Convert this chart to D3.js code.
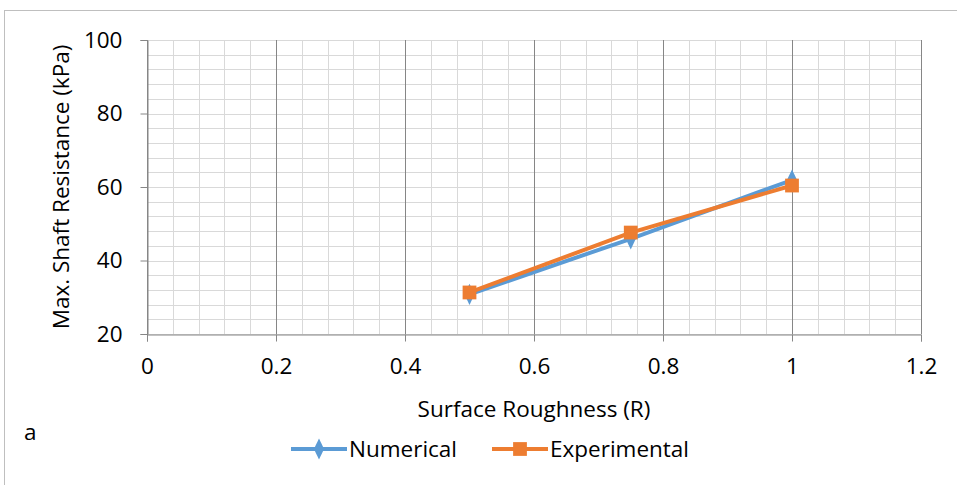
<!DOCTYPE html>
<html>
<head>
<meta charset="utf-8">
<script src="https://cdn.jsdelivr.net/npm/d3@7"></script>
<style>
  body { margin: 0; background: #fff; }
  text { font-family: "Open Sans", sans-serif; fill: #000; }
</style>
</head>
<body>
<div id="chart"></div>
<script>
// data
var roughness = [0.5, 0.75, 1];
var numerical = [30.8, 45.9, 61.9];
var experimental = [31.3, 47.6, 60.4];
var xTicks = [0, 0.2, 0.4, 0.6, 0.8, 1, 1.2];
var yTicks = [20, 40, 60, 80, 100];
var seriesNames = ["Numerical", "Experimental"];
var seriesColors = ["#5B9BD5", "#ED7D31"];

var W = 957, H = 485;
var fs = 22.5;
var margin = { top: 40, left: 147, right: 957 - 921, bottom: 485 - 334 };
var width = W - margin.left - margin.right;
var height = H - margin.top - margin.bottom;

var svg = d3.select("#chart").append("svg")
    .attr("width", W)
    .attr("height", H);

// outer frame
svg.append("rect")
    .attr("x", 4.5).attr("y", 10.5)
    .attr("width", W + 10).attr("height", H + 10)
    .attr("fill", "none")
    .attr("stroke", "#bfbfbf");

var g = svg.append("g")
    .attr("transform", "translate(" + margin.left + "," + margin.top + ")");

var x = d3.scaleLinear().domain([0, 1.2]).range([0, width]);
var y = d3.scaleLinear().domain([20, 100]).range([height, 0]);

// minor grid
var xMinor = d3.range(0, 1.2001, 0.04);
var yMinor = d3.range(20, 100.001, 4);
g.selectAll(".ygrid").data(yMinor).enter().append("line")
    .attr("x1", 0).attr("x2", width)
    .attr("y1", function(d) { return Math.round(y(d)) + 0.5; })
    .attr("y2", function(d) { return Math.round(y(d)) + 0.5; })
    .attr("stroke", "#d9d9d9");
g.selectAll(".xgrid").data(xMinor).enter().append("line")
    .attr("y1", 0).attr("y2", height)
    .attr("x1", function(d) { return Math.round(x(d)) + 0.5; })
    .attr("x2", function(d) { return Math.round(x(d)) + 0.5; })
    .attr("stroke", "#d9d9d9");

// major vertical grid
g.selectAll(".xmajor").data(xTicks).enter().append("line")
    .attr("y1", 0).attr("y2", height)
    .attr("x1", function(d) { return Math.round(x(d)) + 0.5; })
    .attr("x2", function(d) { return Math.round(x(d)) + 0.5; })
    .attr("stroke", "#868686");

// axes
var xAxis = g.append("g")
    .attr("transform", "translate(0," + (Math.round(height) + 0.5) + ")")
    .call(d3.axisBottom(x).tickValues(xTicks).tickSize(7).tickPadding(17)
        .tickFormat(function(d) { return d3.format("")(+d.toFixed(1)); }));
var yAxis = g.append("g")
    .attr("transform", "translate(0.5,0)")
    .call(d3.axisLeft(y).tickValues(yTicks).tickSize(7).tickPadding(18));
[xAxis, yAxis].forEach(function(a) {
    a.select(".domain").attr("stroke", "#868686");
    a.selectAll(".tick line").attr("stroke", "#868686");
    a.selectAll(".tick text")
        .attr("font-family", "Open Sans, sans-serif")
        .attr("font-size", fs)
        .attr("fill", "#000");
});

// series
var series = [numerical, experimental];
var line = d3.line()
    .x(function(d, i) { return x(roughness[i]); })
    .y(function(d) { return y(d); });

series.forEach(function(s, k) {
    g.append("path")
        .datum(s)
        .attr("fill", "none")
        .attr("stroke", seriesColors[k])
        .attr("stroke-width", 4)
        .attr("stroke-linejoin", "round")
        .attr("d", line);
});

var diamond = d3.symbol().type(d3.symbolDiamond).size(90);
var square = d3.symbol().type(d3.symbolSquare).size(190);
g.selectAll(".num").data(numerical).enter().append("path")
    .attr("d", diamond)
    .attr("transform", function(d, i) { return "translate(" + x(roughness[i]) + "," + y(d) + ") scale(1,1.2)"; })
    .attr("fill", seriesColors[0]);
g.selectAll(".exp").data(experimental).enter().append("path")
    .attr("d", square)
    .attr("transform", function(d, i) { return "translate(" + x(roughness[i]) + "," + y(d) + ")"; })
    .attr("fill", seriesColors[1]);

// axis titles
svg.append("text")
    .attr("x", margin.left + width / 2)
    .attr("y", 417)
    .attr("text-anchor", "middle")
    .attr("font-size", fs)
    .text("Surface Roughness (R)");
svg.append("text")
    .attr("transform", "translate(69," + (margin.top + height / 2) + ") rotate(-90)")
    .attr("text-anchor", "middle")
    .attr("font-size", fs)
    .text("Max. Shaft Resistance (kPa)");

svg.append("text")
    .attr("x", 24).attr("y", 440)
    .attr("font-size", fs)
    .text("a");

// legend
var legendX = [291, 492];
var legend = svg.selectAll(".legend").data(seriesNames).enter().append("g")
    .attr("transform", function(d, i) { return "translate(" + legendX[i] + ",449)"; });
legend.append("line")
    .attr("x1", 0).attr("x2", 56)
    .attr("stroke", function(d, i) { return seriesColors[i]; })
    .attr("stroke-width", 4);
legend.append("path")
    .attr("d", function(d, i) { return i === 0 ? diamond() : square(); })
    .attr("transform", function(d, i) { return "translate(28,0)" + (i === 0 ? " scale(1,1.2)" : ""); })
    .attr("fill", function(d, i) { return seriesColors[i]; });
legend.append("text")
    .attr("x", 58)
    .attr("dy", "0.36em")
    .attr("font-size", fs)
    .text(function(d) { return d; });
</script>
</body>
</html>
